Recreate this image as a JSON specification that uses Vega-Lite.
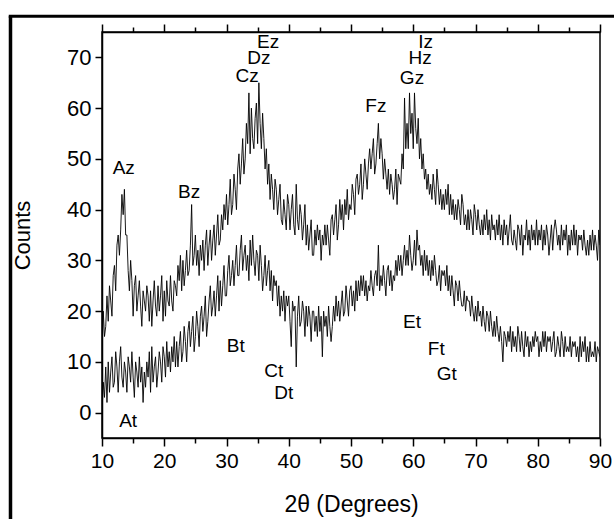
{
"$schema": "https://vega.github.io/schema/vega-lite/v6.json",
"width": 498, "height": 406,
"autosize": "none",
"padding": {"left": 102, "top": 32, "right": 14, "bottom": 81},
"background": "white",
"config": {"view": {"stroke": "black", "strokeWidth": 1.5}, "font": "Liberation Sans"},
"datasets": {
"xrd": [
{"x":10.0,"z":12,"t":0},{"x":10.2,"z":20,"t":6},{"x":10.4,"z":15,"t":3},{"x":10.6,"z":17,"t":9},{"x":10.8,"z":23,"t":2},
{"x":11.0,"z":18,"t":10},{"x":11.2,"z":25,"t":4},{"x":11.4,"z":22,"t":8},{"x":11.6,"z":19,"t":11},{"x":11.8,"z":27,"t":5},
{"x":12.0,"z":29,"t":6},{"x":12.2,"z":24,"t":12},{"x":12.4,"z":33,"t":9},{"x":12.6,"z":35,"t":4},{"x":12.8,"z":31,"t":10},
{"x":13.0,"z":36,"t":13},{"x":13.2,"z":43,"t":7},{"x":13.4,"z":39,"t":5},{"x":13.6,"z":44,"t":10},{"x":13.8,"z":35,"t":8},
{"x":14.0,"z":35,"t":4},{"x":14.2,"z":28,"t":11},{"x":14.4,"z":24,"t":9},{"x":14.6,"z":30,"t":6},{"x":14.8,"z":26,"t":12},
{"x":15.0,"z":19,"t":7},{"x":15.2,"z":25,"t":3},{"x":15.4,"z":27,"t":10},{"x":15.6,"z":20,"t":8},{"x":15.8,"z":23,"t":5},
{"x":16.0,"z":26,"t":11},{"x":16.2,"z":21,"t":6},{"x":16.4,"z":17,"t":9},{"x":16.6,"z":24,"t":2},{"x":16.8,"z":22,"t":8},
{"x":17.0,"z":20,"t":5},{"x":17.2,"z":25,"t":10},{"x":17.4,"z":23,"t":7},{"x":17.6,"z":18,"t":12},{"x":17.8,"z":24,"t":4},
{"x":18.0,"z":17,"t":13},{"x":18.2,"z":22,"t":6},{"x":18.4,"z":26,"t":9},{"x":18.6,"z":21,"t":11},{"x":18.8,"z":19,"t":5},
{"x":19.0,"z":25,"t":8},{"x":19.2,"z":20,"t":12},{"x":19.4,"z":23,"t":10},{"x":19.6,"z":27,"t":6},{"x":19.8,"z":18,"t":13},
{"x":20.0,"z":24,"t":11},{"x":20.2,"z":19,"t":7},{"x":20.4,"z":26,"t":14},{"x":20.6,"z":22,"t":9},{"x":20.8,"z":21,"t":12},
{"x":21.0,"z":27,"t":8},{"x":21.2,"z":22,"t":13},{"x":21.4,"z":20,"t":10},{"x":21.6,"z":26,"t":15},{"x":21.8,"z":25,"t":9},
{"x":22.0,"z":23,"t":14},{"x":22.2,"z":29,"t":9},{"x":22.4,"z":26,"t":13},{"x":22.6,"z":31,"t":16},{"x":22.8,"z":24,"t":10},
{"x":23.0,"z":30,"t":12},{"x":23.2,"z":25,"t":17},{"x":23.4,"z":28,"t":14},{"x":23.6,"z":32,"t":10},{"x":23.8,"z":27,"t":16},
{"x":24.0,"z":28,"t":18},{"x":24.2,"z":33,"t":13},{"x":24.4,"z":41,"t":16},{"x":24.6,"z":29,"t":19},{"x":24.8,"z":31,"t":12},
{"x":25.0,"z":35,"t":15},{"x":25.2,"z":29,"t":20},{"x":25.4,"z":32,"t":17},{"x":25.6,"z":27,"t":13},{"x":25.8,"z":33,"t":19},
{"x":26.0,"z":30,"t":21},{"x":26.2,"z":34,"t":16},{"x":26.4,"z":28,"t":19},{"x":26.6,"z":33,"t":23},{"x":26.8,"z":36,"t":15},
{"x":27.0,"z":29,"t":18},{"x":27.2,"z":33,"t":22},{"x":27.4,"z":36,"t":25},{"x":27.6,"z":30,"t":19},{"x":27.8,"z":34,"t":21},
{"x":28.0,"z":37,"t":24},{"x":28.2,"z":31,"t":19},{"x":28.4,"z":35,"t":23},{"x":28.6,"z":39,"t":27},{"x":28.8,"z":33,"t":20},
{"x":29.0,"z":34,"t":26},{"x":29.2,"z":39,"t":21},{"x":29.4,"z":36,"t":25},{"x":29.6,"z":41,"t":29},{"x":29.8,"z":38,"t":23},
{"x":30.0,"z":43,"t":23},{"x":30.2,"z":37,"t":28},{"x":30.4,"z":41,"t":31},{"x":30.6,"z":46,"t":25},{"x":30.8,"z":39,"t":27},
{"x":31.0,"z":41,"t":30},{"x":31.2,"z":47,"t":25},{"x":31.4,"z":44,"t":29},{"x":31.6,"z":40,"t":33},{"x":31.8,"z":48,"t":27},
{"x":32.0,"z":51,"t":27},{"x":32.2,"z":45,"t":32},{"x":32.4,"z":49,"t":35},{"x":32.6,"z":54,"t":28},{"x":32.8,"z":47,"t":31},
{"x":33.0,"z":50,"t":33},{"x":33.2,"z":57,"t":28},{"x":33.4,"z":53,"t":31},{"x":33.6,"z":63,"t":26},{"x":33.8,"z":51,"t":34},
{"x":34.0,"z":60,"t":29},{"x":34.2,"z":54,"t":35},{"x":34.4,"z":52,"t":30},{"x":34.6,"z":58,"t":27},{"x":34.8,"z":61,"t":32},
{"x":35.0,"z":53,"t":31},{"x":35.2,"z":65,"t":26},{"x":35.4,"z":57,"t":33},{"x":35.6,"z":52,"t":29},{"x":35.8,"z":59,"t":24},
{"x":36.0,"z":54,"t":27},{"x":36.2,"z":48,"t":31},{"x":36.4,"z":52,"t":25},{"x":36.6,"z":45,"t":28},{"x":36.8,"z":49,"t":30},
{"x":37.0,"z":42,"t":24},{"x":37.2,"z":47,"t":28},{"x":37.4,"z":44,"t":22},{"x":37.6,"z":40,"t":27},{"x":37.8,"z":46,"t":25},
{"x":38.0,"z":44,"t":26},{"x":38.2,"z":39,"t":21},{"x":38.4,"z":42,"t":25},{"x":38.6,"z":45,"t":19},{"x":38.8,"z":38,"t":23},
{"x":39.0,"z":37,"t":20},{"x":39.2,"z":42,"t":24},{"x":39.4,"z":39,"t":18},{"x":39.6,"z":36,"t":23},{"x":39.8,"z":43,"t":21},
{"x":40.0,"z":41,"t":23},{"x":40.2,"z":36,"t":18},{"x":40.4,"z":40,"t":13},{"x":40.6,"z":43,"t":22},{"x":40.8,"z":37,"t":20},
{"x":41.0,"z":35,"t":21},{"x":41.2,"z":45,"t":9},{"x":41.4,"z":38,"t":19},{"x":41.6,"z":36,"t":23},{"x":41.8,"z":41,"t":17},
{"x":42.0,"z":39,"t":18},{"x":42.2,"z":34,"t":22},{"x":42.4,"z":37,"t":20},{"x":42.6,"z":41,"t":15},{"x":42.8,"z":33,"t":21},
{"x":43.0,"z":37,"t":17},{"x":43.2,"z":32,"t":21},{"x":43.4,"z":35,"t":19},{"x":43.6,"z":38,"t":14},{"x":43.8,"z":31,"t":20},
{"x":44.0,"z":31,"t":20},{"x":44.2,"z":36,"t":16},{"x":44.4,"z":33,"t":19},{"x":44.6,"z":37,"t":15},{"x":44.8,"z":34,"t":21},
{"x":45.0,"z":36,"t":16},{"x":45.2,"z":30,"t":19},{"x":45.4,"z":35,"t":11},{"x":45.6,"z":33,"t":20},{"x":45.8,"z":37,"t":17},
{"x":46.0,"z":33,"t":19},{"x":46.2,"z":37,"t":15},{"x":46.4,"z":34,"t":21},{"x":46.6,"z":31,"t":17},{"x":46.8,"z":38,"t":14},
{"x":47.0,"z":39,"t":17},{"x":47.2,"z":35,"t":21},{"x":47.4,"z":38,"t":18},{"x":47.6,"z":41,"t":23},{"x":47.8,"z":34,"t":19},
{"x":48.0,"z":37,"t":22},{"x":48.2,"z":42,"t":18},{"x":48.4,"z":38,"t":21},{"x":48.6,"z":41,"t":24},{"x":48.8,"z":36,"t":19},
{"x":49.0,"z":42,"t":20},{"x":49.2,"z":39,"t":25},{"x":49.4,"z":44,"t":22},{"x":49.6,"z":38,"t":19},{"x":49.8,"z":41,"t":24},
{"x":50.0,"z":40,"t":25},{"x":50.2,"z":45,"t":21},{"x":50.4,"z":43,"t":24},{"x":50.6,"z":39,"t":20},{"x":50.8,"z":46,"t":26},
{"x":51.0,"z":47,"t":22},{"x":51.2,"z":43,"t":26},{"x":51.4,"z":45,"t":23},{"x":51.6,"z":49,"t":27},{"x":51.8,"z":42,"t":24},
{"x":52.0,"z":45,"t":27},{"x":52.2,"z":50,"t":23},{"x":52.4,"z":47,"t":26},{"x":52.6,"z":44,"t":22},{"x":52.8,"z":49,"t":25},
{"x":53.0,"z":52,"t":24},{"x":53.2,"z":48,"t":28},{"x":53.4,"z":51,"t":25},{"x":53.6,"z":54,"t":23},{"x":53.8,"z":47,"t":27},
{"x":54.0,"z":49,"t":28},{"x":54.2,"z":53,"t":25},{"x":54.4,"z":57,"t":33},{"x":54.6,"z":50,"t":24},{"x":54.8,"z":54,"t":27},
{"x":55.0,"z":51,"t":25},{"x":55.2,"z":46,"t":29},{"x":55.4,"z":50,"t":26},{"x":55.6,"z":47,"t":23},{"x":55.8,"z":44,"t":28},
{"x":56.0,"z":48,"t":29},{"x":56.2,"z":43,"t":25},{"x":56.4,"z":47,"t":28},{"x":56.6,"z":45,"t":24},{"x":56.8,"z":42,"t":27},
{"x":57.0,"z":44,"t":26},{"x":57.2,"z":48,"t":30},{"x":57.4,"z":41,"t":27},{"x":57.6,"z":47,"t":31},{"x":57.8,"z":46,"t":28},
{"x":58.0,"z":45,"t":31},{"x":58.2,"z":51,"t":27},{"x":58.4,"z":48,"t":30},{"x":58.6,"z":62,"t":33},{"x":58.8,"z":52,"t":29},
{"x":59.0,"z":57,"t":32},{"x":59.2,"z":52,"t":29},{"x":59.4,"z":63,"t":35},{"x":59.6,"z":55,"t":31},{"x":59.8,"z":59,"t":28},
{"x":60.0,"z":52,"t":30},{"x":60.2,"z":63,"t":34},{"x":60.4,"z":56,"t":29},{"x":60.6,"z":53,"t":36},{"x":60.8,"z":58,"t":32},
{"x":61.0,"z":50,"t":33},{"x":61.2,"z":54,"t":29},{"x":61.4,"z":48,"t":31},{"x":61.6,"z":51,"t":27},{"x":61.8,"z":46,"t":32},
{"x":62.0,"z":48,"t":28},{"x":62.2,"z":44,"t":31},{"x":62.4,"z":47,"t":27},{"x":62.6,"z":43,"t":30},{"x":62.8,"z":45,"t":26},
{"x":63.0,"z":42,"t":30},{"x":63.2,"z":47,"t":27},{"x":63.4,"z":44,"t":31},{"x":63.6,"z":41,"t":28},{"x":63.8,"z":48,"t":25},
{"x":64.0,"z":45,"t":26},{"x":64.2,"z":41,"t":29},{"x":64.4,"z":44,"t":24},{"x":64.6,"z":40,"t":28},{"x":64.8,"z":43,"t":27},
{"x":65.0,"z":40,"t":28},{"x":65.2,"z":44,"t":25},{"x":65.4,"z":41,"t":29},{"x":65.6,"z":45,"t":24},{"x":65.8,"z":39,"t":27},
{"x":66.0,"z":43,"t":23},{"x":66.2,"z":39,"t":27},{"x":66.4,"z":42,"t":24},{"x":66.6,"z":38,"t":21},{"x":66.8,"z":41,"t":26},
{"x":67.0,"z":38,"t":25},{"x":67.2,"z":42,"t":22},{"x":67.4,"z":40,"t":26},{"x":67.6,"z":37,"t":23},{"x":67.8,"z":43,"t":21},
{"x":68.0,"z":41,"t":21},{"x":68.2,"z":37,"t":24},{"x":68.4,"z":39,"t":20},{"x":68.6,"z":36,"t":23},{"x":68.8,"z":40,"t":22},
{"x":69.0,"z":36,"t":22},{"x":69.2,"z":40,"t":19},{"x":69.4,"z":38,"t":23},{"x":69.6,"z":35,"t":20},{"x":69.8,"z":41,"t":18},
{"x":70.0,"z":39,"t":21},{"x":70.2,"z":36,"t":18},{"x":70.4,"z":40,"t":22},{"x":70.6,"z":37,"t":19},{"x":70.8,"z":35,"t":20},
{"x":71.0,"z":38,"t":17},{"x":71.2,"z":35,"t":21},{"x":71.4,"z":39,"t":18},{"x":71.6,"z":36,"t":16},{"x":71.8,"z":40,"t":20},
{"x":72.0,"z":35,"t":19},{"x":72.2,"z":38,"t":16},{"x":72.4,"z":34,"t":20},{"x":72.6,"z":39,"t":17},{"x":72.8,"z":36,"t":15},
{"x":73.0,"z":37,"t":18},{"x":73.2,"z":34,"t":15},{"x":73.4,"z":38,"t":19},{"x":73.6,"z":35,"t":16},{"x":73.8,"z":39,"t":14},
{"x":74.0,"z":34,"t":17},{"x":74.2,"z":37,"t":14},{"x":74.4,"z":33,"t":10},{"x":74.6,"z":38,"t":16},{"x":74.8,"z":35,"t":15},
{"x":75.0,"z":37,"t":13},{"x":75.2,"z":33,"t":16},{"x":75.4,"z":36,"t":14},{"x":75.6,"z":39,"t":17},{"x":75.8,"z":34,"t":12},
{"x":76.0,"z":33,"t":16},{"x":76.2,"z":36,"t":13},{"x":76.4,"z":34,"t":15},{"x":76.6,"z":32,"t":12},{"x":76.8,"z":37,"t":17},
{"x":77.0,"z":36,"t":15},{"x":77.2,"z":33,"t":12},{"x":77.4,"z":37,"t":16},{"x":77.6,"z":31,"t":13},{"x":77.8,"z":35,"t":11},
{"x":78.0,"z":34,"t":16},{"x":78.2,"z":38,"t":13},{"x":78.4,"z":33,"t":15},{"x":78.6,"z":36,"t":11},{"x":78.8,"z":32,"t":14},
{"x":79.0,"z":37,"t":12},{"x":79.2,"z":34,"t":15},{"x":79.4,"z":36,"t":13},{"x":79.6,"z":33,"t":16},{"x":79.8,"z":38,"t":14},
{"x":80.0,"z":33,"t":15},{"x":80.2,"z":36,"t":11},{"x":80.4,"z":34,"t":14},{"x":80.6,"z":37,"t":12},{"x":80.8,"z":32,"t":16},
{"x":81.0,"z":36,"t":13},{"x":81.2,"z":33,"t":16},{"x":81.4,"z":37,"t":12},{"x":81.6,"z":35,"t":15},{"x":81.8,"z":31,"t":14},
{"x":82.0,"z":34,"t":15},{"x":82.2,"z":37,"t":12},{"x":82.4,"z":32,"t":14},{"x":82.6,"z":36,"t":16},{"x":82.8,"z":38,"t":11},
{"x":83.0,"z":36,"t":12},{"x":83.2,"z":33,"t":15},{"x":83.4,"z":35,"t":13},{"x":83.6,"z":32,"t":11},{"x":83.8,"z":37,"t":16},
{"x":84.0,"z":33,"t":14},{"x":84.2,"z":36,"t":11},{"x":84.4,"z":34,"t":15},{"x":84.6,"z":37,"t":12},{"x":84.8,"z":31,"t":13},
{"x":85.0,"z":35,"t":12},{"x":85.2,"z":32,"t":15},{"x":85.4,"z":36,"t":11},{"x":85.6,"z":33,"t":14},{"x":85.8,"z":37,"t":13},
{"x":86.0,"z":33,"t":14},{"x":86.2,"z":36,"t":11},{"x":86.4,"z":31,"t":13},{"x":86.6,"z":35,"t":10},{"x":86.8,"z":34,"t":15},
{"x":87.0,"z":35,"t":11},{"x":87.2,"z":32,"t":14},{"x":87.4,"z":36,"t":12},{"x":87.6,"z":33,"t":15},{"x":87.8,"z":31,"t":10},
{"x":88.0,"z":34,"t":13},{"x":88.2,"z":31,"t":10},{"x":88.4,"z":35,"t":14},{"x":88.6,"z":32,"t":11},{"x":88.8,"z":36,"t":12},
{"x":89.0,"z":32,"t":11},{"x":89.2,"z":35,"t":14},{"x":89.4,"z":33,"t":10},{"x":89.6,"z":30,"t":13},{"x":89.8,"z":36,"t":12},
{"x":90.0,"z":33,"t":11}
],
"labels": [
{"x":13.5,"y":48.2,"label":"Az"},{"x":24,"y":43.5,"label":"Bz"},{"x":33.3,"y":66.3,"label":"Cz"},
{"x":35.2,"y":69.8,"label":"Dz"},{"x":36.7,"y":73,"label":"Ez"},{"x":54,"y":60.4,"label":"Fz"},
{"x":59.8,"y":65.9,"label":"Gz"},{"x":61.1,"y":69.8,"label":"Hz"},{"x":62,"y":73.1,"label":"Iz"},
{"x":14.2,"y":-1.6,"label":"At"},{"x":31.5,"y":13.2,"label":"Bt"},{"x":37.6,"y":8.3,"label":"Ct"},
{"x":39.2,"y":3.9,"label":"Dt"},{"x":59.8,"y":17.9,"label":"Et"},{"x":63.7,"y":12.6,"label":"Ft"},
{"x":65.4,"y":7.7,"label":"Gt"}
]
},
"layer": [
{
"layer": [
{
"data": {"name": "xrd"},
"transform": [{"fold": ["z", "t"], "as": ["series", "v"]}],
"mark": {"type": "line", "color": "black", "strokeWidth": 0.9, "clip": true},
"encoding": {
"x": {"field": "x", "type": "quantitative",
"scale": {"domain": [10, 90], "nice": false, "zero": false},
"axis": {"orient": "bottom", "title": "2θ (Degrees)",
"values": [10,15,20,25,30,35,40,45,50,55,60,65,70,75,80,85,90],
"labelExpr": "datum.value % 10 === 0 ? datum.label : ''",
"tickSize": {"condition": {"test": "datum.value % 10 === 0", "value": 8}, "value": 5},
"grid": false, "domainColor": "black", "domainWidth": 1.5, "tickColor": "black", "tickWidth": 1.5,
"labelFont": "Liberation Sans", "labelFontSize": 21, "labelColor": "black", "labelPadding": 4,
"labelFlush": false, "labelOverlap": false,
"titleFont": "Liberation Sans", "titleFontSize": 23, "titleFontWeight": "normal", "titleColor": "black",
"titlePadding": 22}},
"y": {"field": "v", "type": "quantitative",
"scale": {"domain": [-5, 75], "nice": false, "zero": false},
"axis": {"orient": "left", "title": "Counts",
"values": [0,5,10,15,20,25,30,35,40,45,50,55,60,65,70],
"labelExpr": "datum.value % 10 === 0 ? datum.label : ''",
"tickSize": {"condition": {"test": "datum.value % 10 === 0", "value": 7}, "value": 4},
"grid": false, "domainColor": "black", "domainWidth": 1.5, "tickColor": "black", "tickWidth": 1.5,
"labelFont": "Liberation Sans", "labelFontSize": 22, "labelColor": "black", "labelPadding": 4,
"labelFlush": false, "labelOverlap": false,
"titleFont": "Liberation Sans", "titleFontSize": 22, "titleFontWeight": "normal", "titleColor": "black",
"titlePadding": 32}},
"detail": {"field": "series", "type": "nominal"}
}
},
{
"data": {"name": "labels"},
"mark": {"type": "text", "font": "Liberation Sans", "fontSize": 19, "color": "black", "align": "center", "baseline": "middle"},
"encoding": {
"x": {"field": "x", "type": "quantitative",
"scale": {"domain": [10, 90], "nice": false, "zero": false},
"axis": {"orient": "top", "title": null, "labels": false,
"values": [10,15,20,25,30,35,40,45,50,55,60,65,70,75,80,85,90],
"tickSize": {"condition": {"test": "datum.value % 10 === 0", "value": 8}, "value": 5},
"grid": false, "domainColor": "black", "domainWidth": 1.5, "tickColor": "black", "tickWidth": 1.5}},
"y": {"field": "y", "type": "quantitative", "scale": {"domain": [-5, 75], "nice": false, "zero": false}},
"text": {"field": "label"}
}
}
]
},
{
"layer": [
{
"data": {"values": [{}]},
"mark": {"type": "rule", "color": "black", "strokeWidth": 3.5, "clip": false},
"encoding": {
"x": {"datum": -4.7, "type": "quantitative", "axis": null, "scale": {"domain": [10, 90], "nice": false, "zero": false}},
"y": {"datum": 78.1, "type": "quantitative", "axis": null, "scale": {"domain": [-5, 75], "nice": false, "zero": false}},
"y2": {"datum": -25}
}
},
{
"data": {"values": [{}]},
"mark": {"type": "rule", "color": "black", "strokeWidth": 3, "clip": false},
"encoding": {
"x": {"datum": -4.98, "type": "quantitative", "axis": null, "scale": {"domain": [10, 90], "nice": false, "zero": false}},
"x2": {"datum": 105},
"y": {"datum": 78.1, "type": "quantitative", "axis": null, "scale": {"domain": [-5, 75], "nice": false, "zero": false}}
}
}
]
}
],
"resolve": {"scale": {"x": "independent", "y": "independent"}}
}
